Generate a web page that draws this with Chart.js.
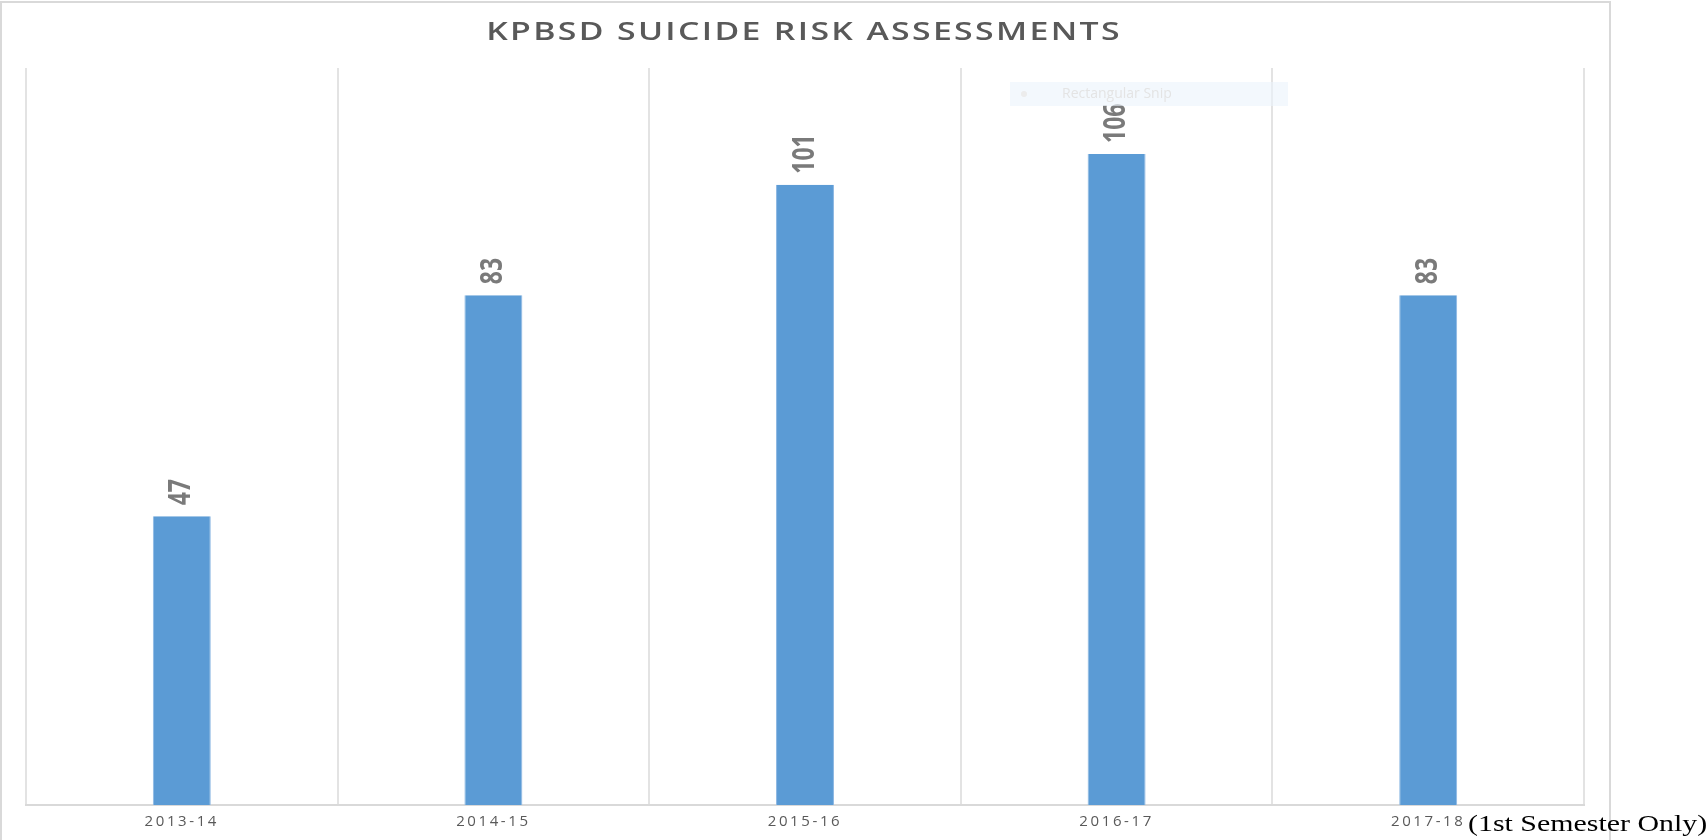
<!DOCTYPE html>
<html>
<head>
<meta charset="utf-8">
<script src="https://cdn.jsdelivr.net/npm/chart.js@4"></script>
<style>
  html, body { margin: 0; padding: 0; background: #fff; }
  #wrap { width: 1707px; height: 840px; position: relative; }
</style>
</head>
<body>
<div id="wrap"><canvas id="riskChart"></canvas></div>
<script>
const years = ['2013-14', '2014-15', '2015-16', '2016-17', '2017-18'];
const assessments = [47, 83, 101, 106, 83];
const chartTitle = 'KPBSD SUICIDE RISK ASSESSMENTS';
const footNote = '(1st Semester Only)';
const snipText = 'Rectangular Snip';

// the original screenshot is stretched sideways, text is drawn the same way
const stretchX = 1.3;

// outer frame, title, the faded snip tooltip and the note after the last label
const decorations = {
  id: 'decorations',
  beforeDraw(chart) {
    const ctx = chart.ctx;
    ctx.save();
    ctx.strokeStyle = '#d9d9d9';
    ctx.lineWidth = 2;
    ctx.strokeRect(1, 2, 1609, 860);
    ctx.translate(804, 33);
    ctx.scale(stretchX, 1);
    ctx.fillStyle = '#595959';
    ctx.font = '600 26px "Open Sans"';
    ctx.letterSpacing = '1.8px';
    ctx.textAlign = 'center';
    ctx.textBaseline = 'middle';
    ctx.fillText(chartTitle, 0, 0);
    ctx.restore();
    ctx.letterSpacing = '2.6px';
  },
  afterDraw(chart) {
    const ctx = chart.ctx;
    ctx.save();
    ctx.letterSpacing = '0px';
    ctx.fillStyle = 'rgba(235,243,252,0.6)';
    ctx.fillRect(1010, 82, 278, 24);
    ctx.fillStyle = '#ececec';
    ctx.beginPath();
    ctx.arc(1024, 94, 3, 0, Math.PI * 2);
    ctx.fill();
    ctx.fillStyle = '#e4e4e4';
    ctx.font = '14px "Open Sans"';
    ctx.textBaseline = 'middle';
    ctx.fillText(snipText, 1062, 94);
    ctx.translate(1468, 825);
    ctx.scale(stretchX, 1);
    ctx.fillStyle = '#000';
    ctx.font = '23px "Liberation Serif"';
    ctx.textAlign = 'left';
    ctx.fillText(footNote, 0, 0);
    ctx.restore();
  }
};

// values written vertically above each bar
const barValues = {
  id: 'barValues',
  afterDatasetsDraw(chart) {
    const ctx = chart.ctx;
    const meta = chart.getDatasetMeta(0);
    ctx.save();
    ctx.letterSpacing = '0px';
    ctx.fillStyle = '#7a7a7a';
    ctx.font = '700 23px "Open Sans"';
    ctx.textAlign = 'left';
    ctx.textBaseline = 'middle';
    meta.data.forEach((bar, i) => {
      ctx.save();
      ctx.translate(bar.x, bar.y - 11);
      ctx.rotate(-Math.PI / 2);
      ctx.scale(1, stretchX);
      ctx.fillText(String(assessments[i]), 0, 0);
      ctx.restore();
    });
    ctx.restore();
  }
};

const riskChart = new Chart(
  document.querySelector('#riskChart'),
  {
    type: 'bar',
    data: {
      labels: years,
      datasets: [{
        label: 'Assessments',
        data: assessments,
        backgroundColor: '#5b9bd5',
        borderColor: '#8db8e3',
        borderWidth: { left: 1, right: 1, top: 0, bottom: 0 },
        categoryPercentage: 1,
        barPercentage: 0.186
      }]
    },
    options: {
      responsive: true,
      maintainAspectRatio: false,
      animation: false,
      layout: { padding: { left: 26, right: 123, top: 68, bottom: 9 } },
      plugins: {
        legend: { display: false },
        title: { display: false },
        tooltip: { enabled: false }
      },
      scales: {
        x: {
          grid: { color: '#e3e3e3', lineWidth: 2, drawTicks: false, tickLength: 0, offset: true },
          border: { color: '#d9d9d9', width: 2 },
          ticks: { color: '#595959', font: { family: 'Open Sans', size: 15 }, padding: 8, maxRotation: 0 },
          afterFit(scale) { scale.height = 26; }
        },
        y: {
          display: false,
          min: 0,
          max: 120
        }
      }
    },
    plugins: [decorations, barValues]
  }
);
</script>
</body>
</html>
